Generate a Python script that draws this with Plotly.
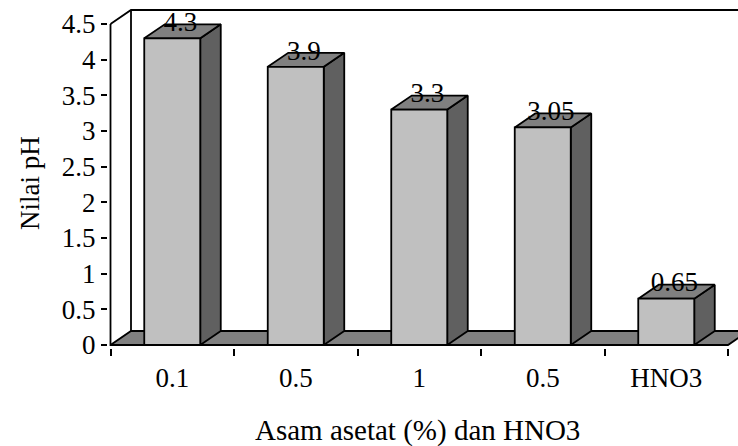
import plotly.graph_objects as go

# ---- data ----
categories = ["0.1", "0.5", "1", "0.5", "HNO3"]
ph_values = [4.3, 3.9, 3.3, 3.05, 0.65]
value_labels = ["4.3", "3.9", "3.3", "3.05", "0.65"]
y_ticks = [0, 0.5, 1, 1.5, 2, 2.5, 3, 3.5, 4, 4.5]
y_tick_labels = ["0", "0.5", "1", "1.5", "2", "2.5", "3", "3.5", "4", "4.5"]
x_title = "Asam asetat (%) dan HNO3"
y_title = "Nilai pH"

# ---- geometry / style ----
W, H = 738, 446
ML, MR, MT, MB = 108, 0, 6, 98
PX_X = 123.5      # pixels per category
PX_Y = 71.33      # pixels per pH unit
X0_PX = 110.5     # pixel column of the front y-axis (x = -0.5)
Y0_PX = 345.0     # pixel row of pH = 0
DX = 20.5 / PX_X  # 3-D depth offset (x)
DY = 14.0 / PX_Y  # 3-D depth offset (y)
HW = 28.0 / PX_X  # half bar width
FONT = "'Liberation Serif', 'Times New Roman', 'DejaVu Serif', serif"
FS = 27

plot_w = W - ML - MR
plot_h = H - MT - MB
x_lo = -0.5 + (ML - X0_PX) / PX_X
x_hi = x_lo + plot_w / PX_X
y_lo = -((H - MB) - Y0_PX) / PX_Y
y_hi = y_lo + plot_h / PX_Y

n = len(categories)
xs = list(range(n))
xa, xb = -0.5, n - 0.5
ymax = y_ticks[-1]

fig = go.Figure()
line = dict(color="black", width=1.8)

# back wall edges
fig.add_trace(go.Scatter(x=[xa, xa + DX, x_hi + 1], y=[ymax, ymax + DY, ymax + DY],
                         mode="lines", line=line, hoverinfo="skip"))
fig.add_trace(go.Scatter(x=[xa + DX, xa + DX], y=[DY, ymax + DY],
                         mode="lines", line=line, hoverinfo="skip"))
# floor
fig.add_trace(go.Scatter(x=[xa, xb, xb + DX, xa + DX, xa], y=[0, 0, DY, DY, 0],
                         mode="lines", fill="toself", fillcolor="#808080",
                         line=line, hoverinfo="skip"))

# bars (side, top, front)
sx, sy, tx, ty, fx, fy = [], [], [], [], [], []
for c, v in zip(xs, ph_values):
    sx += [c + HW, c + HW + DX, c + HW + DX, c + HW, c + HW, None]
    sy += [0, DY, v + DY, v, 0, None]
    tx += [c - HW, c + HW, c + HW + DX, c - HW + DX, c - HW, None]
    ty += [v, v, v + DY, v + DY, v, None]
    fx += [c - HW, c + HW, c + HW, c - HW, c - HW, None]
    fy += [0, 0, v, v, 0, None]
fig.add_trace(go.Scatter(x=sx, y=sy, mode="lines", fill="toself", fillcolor="#606060",
                         line=line, hoverinfo="skip"))
fig.add_trace(go.Scatter(x=tx, y=ty, mode="lines", fill="toself", fillcolor="#808080",
                         line=line, hoverinfo="skip"))
fig.add_trace(go.Scatter(x=fx, y=fy, mode="lines", fill="toself", fillcolor="#C0C0C0",
                         line=line, hoverinfo="skip"))

# front axis lines
fig.add_trace(go.Scatter(x=[xa, xa, xb], y=[ymax, 0, 0], mode="lines",
                         line=line, hoverinfo="skip"))

# value labels
fig.add_trace(go.Scatter(x=[c + DX * 0.4 for c in xs], y=[v + DY for v in ph_values],
                         mode="text", text=value_labels, textposition="middle center",
                         textfont=dict(family=FONT, size=FS, color="black"),
                         hoverinfo="skip", cliponaxis=False))

fig.update_layout(
    width=W, height=H,
    margin=dict(l=ML, r=MR, t=MT, b=MB, pad=0),
    paper_bgcolor="white", plot_bgcolor="white",
    showlegend=False,
    font=dict(family=FONT, size=FS, color="black"),
    xaxis=dict(range=[x_lo, x_hi], tickmode="array", tickvals=xs, ticktext=categories,
               ticks="outside", ticklen=6, tickcolor="rgba(0,0,0,0)",
               tickfont=dict(family=FONT, size=FS, color="black"),
               minor=dict(tickmode="array", tickvals=[x - 0.5 for x in xs] + [xb],
                          ticks="outside", ticklen=7, tickwidth=1.8, tickcolor="black",
                          showgrid=False),
               showgrid=False, zeroline=False, showline=False, fixedrange=True),
    yaxis=dict(range=[y_lo, y_hi], tickmode="array", tickvals=y_ticks, ticktext=y_tick_labels,
               ticks="outside", ticklen=6, tickwidth=1.8, tickcolor="black",
               tickfont=dict(family=FONT, size=FS, color="black"),
               showgrid=False, zeroline=False, showline=False, fixedrange=True),
    annotations=[
        dict(text=x_title, xref="paper", yref="paper",
             x=(417.5 - ML) / plot_w, y=((H - MB) - 430) / plot_h,
             xanchor="center", yanchor="middle", showarrow=False,
             font=dict(family=FONT, size=29, color="black")),
        dict(text=y_title, xref="paper", yref="paper", textangle=-90,
             x=(30 - ML) / plot_w, y=((H - MB) - 183) / plot_h,
             xanchor="center", yanchor="middle", showarrow=False,
             font=dict(family=FONT, size=FS, color="black")),
    ],
)

fig.write_html("out.html")
